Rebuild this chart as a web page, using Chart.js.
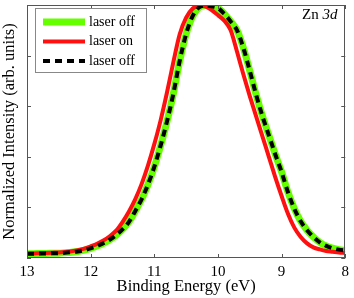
<!DOCTYPE html>
<html><head><meta charset="utf-8">
<script src="https://cdn.jsdelivr.net/npm/chart.js@4.4.1/dist/chart.umd.min.js"></script>
<style>html,body{margin:0;padding:0;background:#fff}#wrap{width:354px;height:298px}</style>
</head><body><div id="wrap"><canvas id="c" width="354" height="298"></canvas></div>
<script>
const energies = [13.0,12.9,12.8,12.7,12.6,12.5,12.4,12.3,12.2,12.1,12.0,11.9,11.8,11.7,11.6,11.5,11.4,11.3,11.2,11.1,11.0,10.9,10.8,10.7,10.6,10.5,10.4,10.3,10.2,10.1,10.0,9.9,9.8,9.7,9.6,9.5,9.4,9.3,9.2,9.1,9.0,8.9,8.8,8.7,8.6,8.5,8.4,8.3,8.2,8.1,8.0];
const laserOff = [0.017,0.017,0.018,0.018,0.019,0.019,0.021,0.023,0.026,0.031,0.038,0.047,0.058,0.072,0.090,0.113,0.142,0.185,0.232,0.290,0.360,0.445,0.540,0.650,0.780,0.885,0.955,0.990,0.998,0.995,0.988,0.965,0.935,0.900,0.830,0.740,0.645,0.560,0.485,0.410,0.340,0.260,0.195,0.145,0.110,0.083,0.062,0.048,0.039,0.033,0.030];
const laserOn = [0.018,0.018,0.019,0.020,0.021,0.022,0.024,0.027,0.031,0.037,0.046,0.056,0.069,0.086,0.108,0.142,0.183,0.232,0.292,0.365,0.450,0.545,0.655,0.775,0.885,0.950,0.985,0.998,0.995,0.980,0.960,0.938,0.900,0.815,0.725,0.640,0.560,0.480,0.400,0.320,0.245,0.175,0.120,0.083,0.058,0.042,0.034,0.028,0.025,0.022,0.020];
const xTicks = [13,12,11,10,9,8];
const yTicks = [0,0.2,0.4,0.6,0.8,1.0];
const seriesLabels = ['laser off','laser on','laser off'];
const xTitle = 'Binding Energy (eV)';
const yTitle = 'Normalized Intensity (arb. units)';
const panelLabel = ['Zn ', '3d'];

const SERIF = '"Liberation Serif", "Times New Roman", serif';

const pts = arr => energies.map((e,i)=>({x:e, y:arr[i]}));

const framePlugin = {
  id:'frame',
  afterDraw(chart){
    const {ctx, chartArea:a, scales:{x,y}} = chart;
    ctx.save();
    ctx.strokeStyle = '#555';
    ctx.lineWidth = 1;
    ctx.strokeRect(Math.round(a.left)+0.5, Math.round(a.top)+0.5, Math.round(a.right-a.left)-1, Math.round(a.bottom-a.top)-1);
    const L = 4;
    ctx.beginPath();
    xTicks.forEach(v=>{
      const px = Math.round(x.getPixelForValue(v))+0.5;
      ctx.moveTo(px, a.bottom); ctx.lineTo(px, a.bottom-L);
      ctx.moveTo(px, a.top); ctx.lineTo(px, a.top+L);
    });
    yTicks.forEach(v=>{
      const py = Math.round(y.getPixelForValue(v))+0.5;
      ctx.moveTo(a.left, py); ctx.lineTo(a.left+L, py);
      ctx.moveTo(a.right, py); ctx.lineTo(a.right-L, py);
    });
    ctx.stroke();
    // legend
    const bx=35, by=8, bw=111, bh=64;
    ctx.fillStyle='#fff';
    ctx.fillRect(bx,by,bw,bh);
    ctx.strokeStyle='#888';
    ctx.strokeRect(bx+0.5,by+0.5,bw,bh);
    chart.data.datasets.forEach((ds,i)=>{
      const ry = 22 + i*19.5;
      ctx.save();
      ctx.strokeStyle = ds.borderColor;
      ctx.lineWidth = ds.borderWidth;
      ctx.setLineDash(ds.borderDash || []);
      ctx.beginPath(); ctx.moveTo(43, ry); ctx.lineTo(85, ry); ctx.stroke();
      ctx.restore();
      ctx.fillStyle='#000';
      ctx.font = '14px ' + SERIF;
      ctx.textBaseline='middle';
      ctx.textAlign='left';
      ctx.fillText(ds.label, 89, ry);
    });
    // panel label
    ctx.fillStyle='#000';
    ctx.textBaseline='alphabetic';
    ctx.font = '15px ' + SERIF;
    ctx.fillText(panelLabel[0], 302, 19);
    const w = ctx.measureText(panelLabel[0]).width;
    ctx.font = 'italic 15px ' + SERIF;
    ctx.fillText(panelLabel[1], 302 + w, 19);
    ctx.restore();
  }
};

new Chart(document.getElementById('c'), {
  type:'line',
  data:{
    datasets:[
      {label:seriesLabels[0], data:pts(laserOff), borderColor:'#66ff00', borderWidth:7, order:3},
      {label:seriesLabels[1], data:pts(laserOn), borderColor:'#ff1010', borderWidth:4, order:2},
      {label:seriesLabels[2], data:pts(laserOff), borderColor:'#000', borderWidth:4, borderDash:[7,5], order:1}
    ]
  },
  options:{
    responsive:false, animation:false, devicePixelRatio:1,
    layout:{padding:{top:5,right:4,left:0,bottom:0}},
    elements:{point:{radius:0}, line:{cubicInterpolationMode:'monotone', borderCapStyle:'butt'}},
    plugins:{legend:{display:false}, tooltip:{enabled:false}},
    scales:{
      x:{type:'linear', reverse:true, min:8, max:13,
        afterBuildTicks:s=>{s.ticks = xTicks.map(v=>({value:v}));},
        ticks:{color:'#000', font:{family:SERIF, size:15}, padding:5, maxRotation:0, autoSkip:false},
        grid:{display:false, drawTicks:false}, border:{display:false},
        title:{display:true, text:xTitle, color:'#000', font:{family:SERIF, size:16.5}, padding:{top:0,bottom:1}},
        afterFit:s=>{s.height=40;}
      },
      y:{min:0, max:1,
        afterBuildTicks:s=>{s.ticks = yTicks.map(v=>({value:v}));},
        ticks:{display:false},
        grid:{display:false, drawTicks:false}, border:{display:false},
        title:{display:true, text:yTitle, color:'#000', font:{family:SERIF, size:16.5}, padding:{top:0,bottom:0}},
        afterFit:s=>{s.width=27;}
      }
    }
  },
  plugins:[framePlugin]
});
</script></body></html>
